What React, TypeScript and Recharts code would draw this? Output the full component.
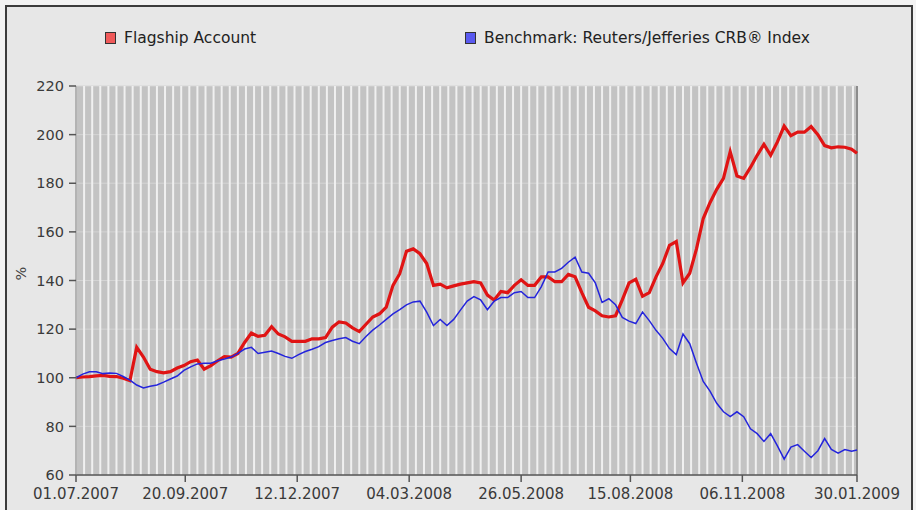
import { LineChart, Line, XAxis, YAxis, CartesianGrid, ReferenceLine, Label } from "recharts";

// values read every 5 days from 01.07.2007 (last point 30.01.2009)
const flagship = [
	100, 100.3, 100.5, 100.8, 101, 100.6, 100.5, 99.8, 98.8, 112.5, 108.5, 103.5, 102.5, 102, 102.5, 104,
	105, 106.6, 107.3, 103.5, 105, 107, 108.7, 108.5, 110, 114.5, 118.4, 117, 117.5, 121, 118, 116.8,
	115, 115, 115, 116, 116, 116.5, 120.8, 123, 122.5, 120.5, 119, 122, 125, 126.3, 129, 138,
	142.8, 152, 153, 151, 147, 138, 138.5, 137, 137.8, 138.5, 139, 139.5, 139, 134, 132, 135.5,
	135, 138, 140.3, 138, 138, 141.5, 141.5, 139.5, 139.5, 142.5, 141.5, 135, 129, 127.5, 125.5, 125,
	125.5, 132, 139, 140.5, 133.5, 135, 141.5, 147, 154.5, 156, 139, 143, 153, 165.5, 172, 177.5,
	182, 193, 183, 182, 186.5, 191.5, 196, 191.5, 197, 203.5, 199.6, 201, 201, 203.3, 200, 195.5,
	194.6, 195, 194.8, 194, 192.3,
];

const benchmark = [
	100, 101.5, 102.5, 102.5, 101.7, 102, 101.8, 100.5, 99, 97, 95.8, 96.5, 97, 98.2, 99.5, 100.7,
	103, 104.5, 105.7, 106, 106, 107, 107.7, 108.5, 110, 111.8, 112.5, 110, 110.5, 111, 110, 108.8,
	108, 109.5, 110.8, 111.7, 112.8, 114.5, 115.3, 116, 116.5, 115, 114, 117, 119.6, 121.7, 124, 126.3,
	128, 130, 131.2, 131.5, 127, 121.5, 124, 121.5, 124, 127.8, 131.5, 133.4, 132, 128, 131.5, 133,
	133, 135, 135.5, 133, 133, 137.5, 143.5, 143.5, 145, 147.5, 149.6, 143.5, 143, 139, 131, 132.5,
	130, 124.8, 123.3, 122.3, 127, 123.5, 119.5, 116.2, 112, 109.5, 118, 114, 106, 98.5, 94.5, 89.5,
	86, 84, 86, 84, 79, 77, 73.8, 77, 72, 66.5, 71.5, 72.5, 69.8, 67.2, 70, 75,
	70.5, 69, 70.5, 69.8, 70.3,
];

const lastDay = 579;
const days = flagship.map((_, i) => Math.min(i * 5, lastDay));

const xTickDays = [0, 81, 164, 247, 330, 411, 494, 579];
const xTickLabels = ["01.07.2007", "20.09.2007", "12.12.2007", "04.03.2008", "26.05.2008", "15.08.2008", "06.11.2008", "30.01.2009"];
const yTicks = [60, 80, 100, 120, 140, 160, 180, 200, 220];

const seriesNames = ["Flagship Account", "Benchmark: Reuters/Jefferies CRB® Index"];

const data = days.map((day, i) => ({ day, flagship: flagship[i], benchmark: benchmark[i] }));

// background stripes, every 6 days
const stripeDays = Array.from({ length: 97 }, (_, i) => i * 6);

const FONT = "'DejaVu Sans', Verdana, sans-serif";

const LegendItem = ({ left, fill, label }: any) => (
	<div style={{ position: "absolute", left, top: 29, display: "flex", alignItems: "center", fontFamily: FONT, fontSize: 15.5, color: "#222" }}>
		<span style={{ width: 9, height: 10, background: fill, border: "1.5px solid #333", marginRight: 8, display: "inline-block" }} />
		{label}
	</div>
);

const App = () => {
	return (
		<div style={{ position: "absolute", left: 0, top: 0, width: 916, height: 510, overflow: "hidden", background: "#f3f3f3" }}>
			<div style={{ position: "absolute", left: 5, top: 5, width: 908, height: 530, boxSizing: "border-box", border: "2px solid #3c3c3c", background: "#e7e7e7" }} />
			<LegendItem left={105} fill="#f05a5a" label={seriesNames[0]} />
			<LegendItem left={465} fill="#5a5af0" label={seriesNames[1]} />
			<div style={{ position: "absolute", left: 0, top: 0 }}>
				<LineChart width={916} height={510} data={data} margin={{ top: 86, right: 59, bottom: 0, left: 0 }}>
					<CartesianGrid vertical={false} fill="#c3c3c3" fillOpacity={1} stroke="#d4d4d4" />
					{stripeDays.map((d) => (
						<ReferenceLine key={d} x={d} stroke="#f0f0f0" strokeWidth={2} />
					))}
					<ReferenceLine x={lastDay} stroke="#8c8c8c" strokeWidth={2} />
					<XAxis
						type="number"
						dataKey="day"
						domain={[0, lastDay]}
						ticks={xTickDays}
						interval={0}
						tickFormatter={(v: number) => xTickLabels[xTickDays.indexOf(v)]}
						height={35}
						tickSize={7}
						tickMargin={6}
						axisLine={{ stroke: "#555", strokeWidth: 1.5 }}
						tickLine={{ stroke: "#555", strokeWidth: 1.5 }}
						tick={{ fill: "#3a3a3a", fontSize: 15, fontFamily: FONT }}
					/>
					<YAxis
						domain={[60, 220]}
						ticks={yTicks}
						interval={0}
						width={76}
						tickSize={7}
						tickMargin={5}
						axisLine={{ stroke: "#777" }}
						tickLine={{ stroke: "#555", strokeWidth: 1.5 }}
						tick={{ fill: "#3a3a3a", fontSize: 14.5, fontFamily: FONT }}
					>
						<Label value="%" angle={-90} position="insideLeft" offset={21} style={{ fill: "#444", fontSize: 14.5, fontFamily: FONT }} />
					</YAxis>
					<Line type="linear" dataKey="flagship" stroke="#e01414" strokeWidth={3.2} dot={false} isAnimationActive={false} />
					<Line type="linear" dataKey="benchmark" stroke="#2424dc" strokeWidth={1.5} dot={false} isAnimationActive={false} />
				</LineChart>
			</div>
		</div>
	);
};

export default App;
